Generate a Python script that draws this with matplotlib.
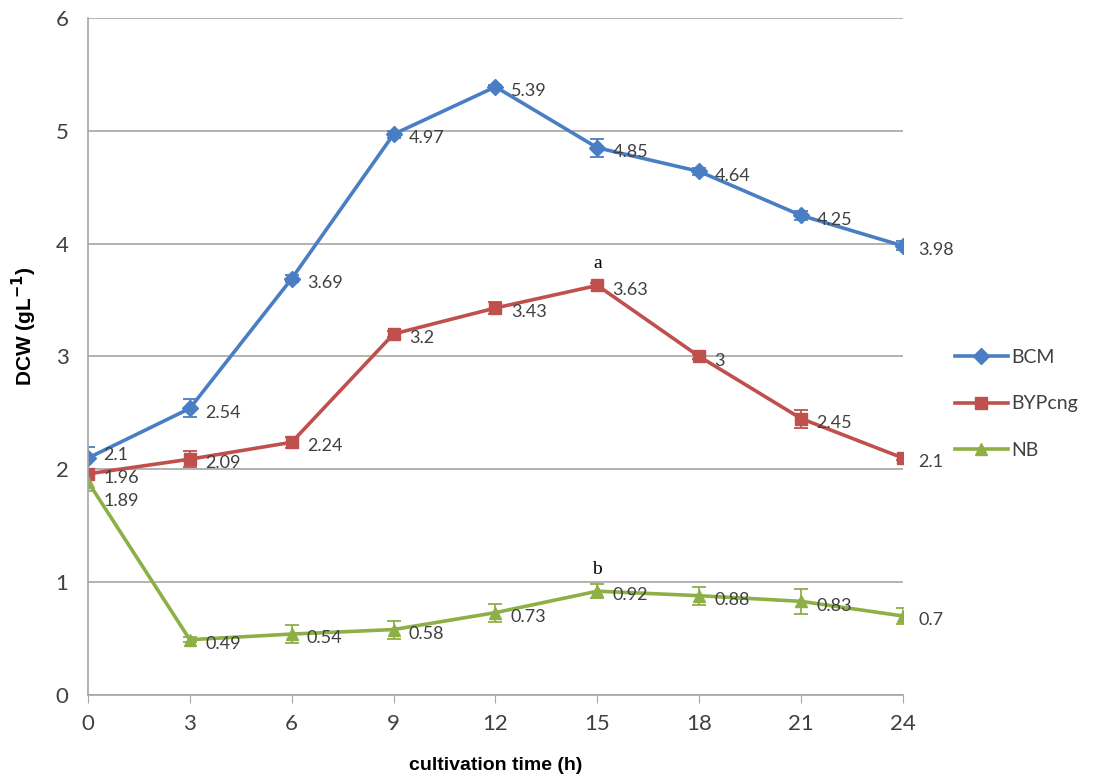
import matplotlib
matplotlib.use('Agg')
import matplotlib.pyplot as plt
from matplotlib.lines import Line2D

hours = [0, 3, 6, 9, 12, 15, 18, 21, 24]

bcm = [2.1, 2.54, 3.69, 4.97, 5.39, 4.85, 4.64, 4.25, 3.98]
bcm_err = [0.10, 0.08, 0.03, 0.03, 0.02, 0.08, 0.03, 0.04, 0.04]

byp = [1.96, 2.09, 2.24, 3.2, 3.43, 3.63, 3.0, 2.45, 2.1]
byp_err = [0.04, 0.07, 0.05, 0.03, 0.05, 0.02, 0.02, 0.08, 0.02]

nb = [1.89, 0.49, 0.54, 0.58, 0.73, 0.92, 0.88, 0.83, 0.7]
nb_err = [0.08, 0.02, 0.08, 0.08, 0.08, 0.06, 0.08, 0.11, 0.07]

fig = plt.figure(figsize=(11.05, 7.83), dpi=100)
ax = fig.add_axes([0.0796, 0.1124, 0.7376, 0.8646])

series = [
    ('BCM', bcm, bcm_err, '#4A7EC4', 'D', 8),
    ('BYPcng', byp, byp_err, '#C0504D', 's', 8),
    ('NB', nb, nb_err, '#8DB046', '^', 9),
]

# first-point labels crowd each other at t=0, nudge them apart a little
first_shift = {'BCM': 5, 'BYPcng': 0, 'NB': -11}

handles = []
for name, vals, err, col, mk, ms in series:
    ax.errorbar(hours, vals, yerr=err, color=col, lw=2.6, marker=mk, ms=ms,
                ecolor=col, elinewidth=1.3, capsize=5, capthick=1.3)
    handles.append(Line2D([], [], color=col, lw=2.6, marker=mk, ms=ms, label=name))
    for i, (x, y) in enumerate(zip(hours, vals)):
        dy = -3 + (first_shift[name] if i == 0 else 0)
        ax.annotate(f'{y:g}', (x, y), xytext=(11, dy), textcoords='offset points',
                    ha='left', va='center', fontsize=13, color='#404040',
                    family='Lato')

ax.text(15, 3.63 + 0.12, 'a', ha='center', va='bottom', fontsize=14,
        family='Liberation Serif', color='black')
ax.text(15, 0.92 + 0.12, 'b', ha='center', va='bottom', fontsize=14,
        family='Liberation Serif', color='black')

ax.set_xlim(0, 24)
ax.set_ylim(0, 6)
ax.set_xticks(hours)
ax.set_yticks(range(7))
ax.yaxis.grid(True, color='#A6A6A6', lw=1.2)
ax.set_axisbelow(True)
for s in ['top', 'right']:
    ax.spines[s].set_visible(False)
for s in ['left', 'bottom']:
    ax.spines[s].set_color('#A6A6A6')
    ax.spines[s].set_linewidth(1.2)
ax.tick_params(axis='x', direction='out', length=6, color='#A6A6A6',
               labelsize=16, labelcolor='#404040', pad=8)
ax.tick_params(axis='y', length=0, labelsize=16, labelcolor='#404040', pad=14)
for lab in ax.get_xticklabels() + ax.get_yticklabels():
    lab.set_family('Lato')

ax.set_xlabel('cultivation time (h)', fontsize=14, fontweight='bold',
              family='Liberation Sans', labelpad=16)
ax.set_ylabel('DCW (gL$^{\\mathbf{-1}}$)', fontsize=15, fontweight='bold',
              family='Liberation Sans')
ax.yaxis.set_label_coords(-0.06, 0.545)

leg = ax.legend(handles=handles, loc='center left', bbox_to_anchor=(1.064, 0.43),
                frameon=False, borderpad=0, borderaxespad=0, labelspacing=1.5,
                handlelength=2.7, handletextpad=0.2,
                prop={'family': 'Lato', 'size': 14})
for t in leg.get_texts():
    t.set_color('#404040')

fig.savefig('out.png', dpi=100)
